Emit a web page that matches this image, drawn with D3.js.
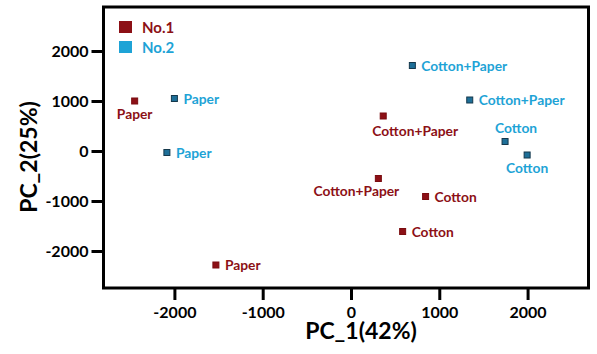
<!DOCTYPE html>
<html>
<head>
<meta charset="utf-8">
<script src="https://cdn.jsdelivr.net/npm/d3@7"></script>
<style>
  body { margin: 0; background: #fff; }
  text { font-family: Lato, "Open Sans", sans-serif; font-weight: bold; }
</style>
</head>
<body>
<div id="scatter"></div>
<script>
// data
var groups = ["No.1", "No.2"];
var no1Labels = ["Paper", "Cotton+Paper", "Cotton+Paper", "Cotton", "Cotton", "Paper"];
var no1X = [-2450, 365, 310, 845, 585, -1530];
var no1Y = [1000, 700, -550, -910, -1610, -2280];
var no2Labels = ["Paper", "Paper", "Cotton+Paper", "Cotton+Paper", "Cotton", "Cotton"];
var no2X = [-2000, -2085, 695, 1345, 1745, 1995];
var no2Y = [1050, -30, 1710, 1020, 190, -80];
var xTicks = [-2000, -1000, 0, 1000, 2000];
var yTicks = [-2000, -1000, 0, 1000, 2000];

// where each label sits relative to its point (style only)
var no1Place = ["below", "belowRight", "belowLeft", "right", "right", "right"];
var no2Place = ["right", "right", "right", "right", "above", "below"];

var colors = { "No.1": "#8c1016", "No.2": "#1ea3d6" };
var markFill = { "No.1": "#8c1016", "No.2": "#1e6f98" };
var markStroke = { "No.1": "#7a0c10", "No.2": "#15384c" };

var svgWidth = 597;
var svgHeight = 354;
var margin = { top: 7, right: 8.5, bottom: 66, left: 103.5 };
var width = svgWidth - margin.left - margin.right;
var height = svgHeight - margin.top - margin.bottom;

var svg = d3.select("#scatter")
    .append("svg")
    .attr("width", svgWidth)
    .attr("height", svgHeight);

var chartGroup = svg.append("g")
    .attr("transform", `translate(${margin.left}, ${margin.top})`);

var x = d3.scaleLinear().domain([-2803, 2690]).range([0, width]);
var y = d3.scaleLinear().domain([-2740, 2880]).range([height, 0]);

// frame
chartGroup.append("rect")
    .attr("width", width)
    .attr("height", height)
    .attr("fill", "none")
    .attr("stroke", "#000")
    .attr("stroke-width", 3);

// axes (plain hyphen for negatives, like the original)
var fmt = d => String(d);
var bottomAxis = d3.axisBottom(x).tickValues(xTicks).tickSize(12).tickPadding(8).tickFormat(fmt);
var leftAxis = d3.axisLeft(y).tickValues(yTicks).tickSize(12).tickPadding(3).tickFormat(fmt);

var gx = chartGroup.append("g")
    .attr("transform", `translate(0, ${height})`)
    .call(bottomAxis);
var gy = chartGroup.append("g").call(leftAxis);

[gx, gy].forEach(function(g) {
    g.select(".domain").remove();
    g.selectAll(".tick line").attr("stroke", "#000").attr("stroke-width", 3);
    g.selectAll(".tick text").attr("fill", "#000").style("font-size", "16px");
});
gx.selectAll(".tick text").attr("y", 19).attr("dy", "0.71em");

// axis titles
svg.append("text")
    .attr("x", 361)
    .attr("y", 339)
    .attr("text-anchor", "middle")
    .style("font-size", "23px")
    .text("PC_1(42%)");

svg.append("text")
    .attr("transform", "translate(37, 157) rotate(-90)")
    .attr("text-anchor", "middle")
    .style("font-size", "23px")
    .text("PC_2(25%)");

// points
var series = [
    { name: "No.1", xs: no1X, ys: no1Y, labels: no1Labels, place: no1Place },
    { name: "No.2", xs: no2X, ys: no2Y, labels: no2Labels, place: no2Place }
];

var offsets = {
    right: { dx: 9, dy: 5, anchor: "start" },
    below: { dx: 0, dy: 18, anchor: "middle" },
    above: { dx: 11, dy: -9, anchor: "middle" },
    belowRight: { dx: 32, dy: 20, anchor: "middle" },
    belowLeft: { dx: -22, dy: 17, anchor: "middle" }
};

series.forEach(function(s) {
    var pts = s.xs.map(function(v, i) {
        return { x: v, y: s.ys[i], label: s.labels[i], place: s.place[i] };
    });
    var g = chartGroup.append("g");
    g.selectAll("rect")
        .data(pts)
        .enter()
        .append("rect")
        .attr("x", d => x(d.x) - 3)
        .attr("y", d => y(d.y) - 3)
        .attr("width", 6)
        .attr("height", 6)
        .attr("fill", markFill[s.name])
        .attr("stroke", markStroke[s.name])
        .attr("stroke-width", 1);
    g.selectAll("text")
        .data(pts)
        .enter()
        .append("text")
        .attr("x", d => x(d.x) + offsets[d.place].dx)
        .attr("y", d => y(d.y) + offsets[d.place].dy)
        .attr("text-anchor", d => offsets[d.place].anchor)
        .attr("fill", colors[s.name])
        .style("font-size", "13.8px")
        .text(d => d.label);
});

// legend
var legend = svg.append("g").attr("transform", "translate(119, 21)");
groups.forEach(function(name, i) {
    legend.append("rect")
        .attr("x", 0)
        .attr("y", i * 20)
        .attr("width", 13)
        .attr("height", 12)
        .attr("fill", colors[name]);
    legend.append("text")
        .attr("x", 23)
        .attr("y", i * 20 + 12)
        .attr("fill", colors[name])
        .style("font-size", "15px")
        .text(name);
});
</script>
</body>
</html>
